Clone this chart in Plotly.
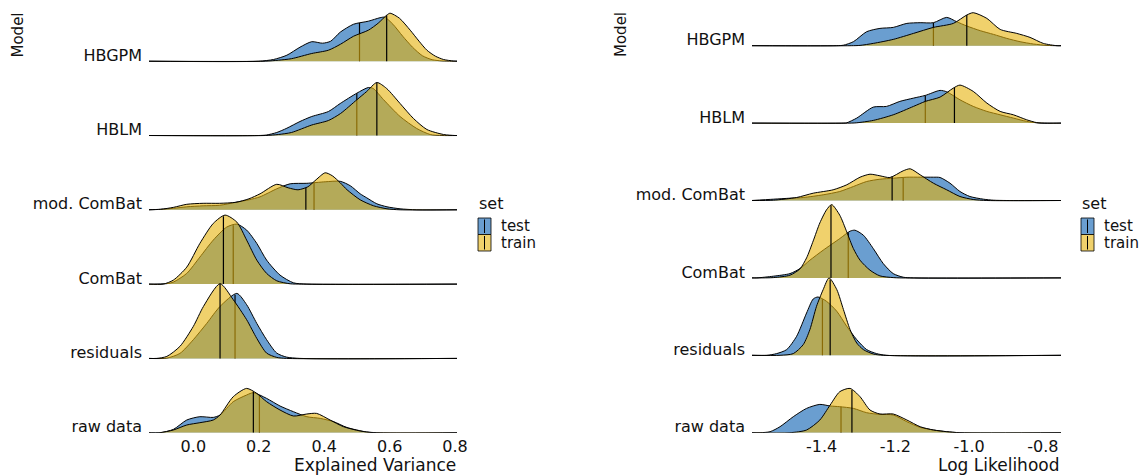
import numpy as np
import plotly.graph_objects as go

# ---------------- data ----------------
models = ["raw data", "residuals", "ComBat", "mod. ComBat", "HBLM", "HBGPM"]
sets = ["test", "train"]

ev_ticks = [0.0, 0.2, 0.4, 0.6, 0.8]
ev_ticktext = ["0.0", "0.2", "0.4", "0.6", "0.8"]
ll_ticks = [-1.4, -1.2, -1.0, -0.8]
ll_ticktext = ["-1.4", "-1.2", "-1.0", "-0.8"]

# medians, ordered like `models`
ev_median_test = [0.202, 0.1275, 0.122, 0.369, 0.4997, 0.508]
ev_median_train = [0.1835, 0.0817, 0.092, 0.344, 0.561, 0.591]
ll_median_test = [-1.3476, -1.398, -1.328, -1.179, -1.119, -1.097]
ll_median_train = [-1.318, -1.377, -1.3748, -1.209, -1.04, -1.0065]

# ridge densities (x, height) -- Explained Variance
ev_hbgpm_test = [(-0.14, 0), (0.20, 0), (0.245, 1.7), (0.286, 6), (0.326, 14), (0.362, 19.5), (0.395, 18),
                 (0.42, 20), (0.449, 29), (0.49, 37), (0.535, 40), (0.571, 43.5), (0.585, 44), (0.61, 37),
                 (0.64, 25), (0.67, 14), (0.70, 5.5), (0.73, 1.5), (0.76, 0.3), (0.79, 0), (0.81, 0)]
ev_hbgpm_train = [(-0.14, 0), (0.22, 0), (0.26, 1), (0.30, 2.5), (0.362, 7.7), (0.413, 11), (0.45, 17),
                  (0.49, 25), (0.535, 31), (0.565, 38), (0.591, 46), (0.6015, 48), (0.63, 43), (0.663, 31),
                  (0.69, 20), (0.714, 11), (0.74, 5), (0.765, 1.7), (0.795, 0.2), (0.81, 0)]
ev_hblm_test = [(-0.14, 0), (0.20, 0), (0.224, 0.5), (0.255, 3), (0.286, 7.3), (0.326, 14), (0.362, 19),
                (0.413, 24), (0.449, 32), (0.4997, 42.3), (0.535, 48), (0.55, 47), (0.581, 36), (0.632, 19),
                (0.683, 7), (0.724, 1), (0.76, 0), (0.81, 0)]
ev_hblm_train = [(-0.14, 0), (0.22, 0), (0.26, 1), (0.30, 3), (0.362, 10.5), (0.413, 15), (0.45, 22),
                 (0.4997, 35.7), (0.530, 44), (0.561, 53), (0.591, 47), (0.632, 32), (0.673, 17), (0.714, 6),
                 (0.765, 1), (0.80, 0), (0.81, 0)]
ev_modcombat_test = [(-0.14, 0), (-0.10, 0.5), (-0.06, 1.5), (-0.02, 3), (0.03, 4), (0.08, 4.5), (0.13, 7.5),
                     (0.17, 10), (0.204, 13), (0.255, 21), (0.296, 26), (0.347, 26.5), (0.403, 28), (0.449, 28.5),
                     (0.48, 24), (0.51, 16), (0.53, 12), (0.561, 6), (0.592, 3), (0.632, 1), (0.683, 0), (0.81, 0)]
ev_modcombat_train = [(-0.14, 0), (-0.10, 0.5), (-0.06, 2.5), (-0.02, 5.5), (0.03, 6.5), (0.08, 6.5), (0.13, 7.5),
                      (0.17, 11), (0.204, 16), (0.255, 25.5), (0.29, 22), (0.32, 20), (0.35, 23), (0.375, 30),
                      (0.403, 37), (0.425, 34), (0.449, 27), (0.47, 20), (0.51, 10), (0.551, 4), (0.592, 1),
                      (0.632, 0), (0.81, 0)]
ev_combat_test = [(-0.14, 0), (-0.08, 0.5), (-0.061, 2), (-0.020, 10.7), (0.020, 27), (0.061, 44), (0.102, 57),
                  (0.133, 60), (0.163, 54), (0.194, 40.7), (0.224, 24), (0.265, 9), (0.306, 1.3), (0.347, 0),
                  (0.81, 0)]
ev_combat_train = [(-0.14, 0), (-0.092, 0), (-0.061, 4), (-0.020, 17), (0.020, 40.7), (0.061, 60.7), (0.097, 69),
                   (0.133, 62), (0.163, 44), (0.194, 24), (0.224, 10.7), (0.255, 3.3), (0.296, 0.3), (0.33, 0),
                   (0.81, 0)]
ev_resid_test = [(-0.14, 0), (-0.081, 0.3), (-0.041, 5), (0.0, 18.7), (0.041, 35), (0.0817, 52), (0.133, 65),
                 (0.163, 53.7), (0.194, 35), (0.224, 18.7), (0.255, 5.3), (0.285, 1.3), (0.326, 0), (0.81, 0)]
ev_resid_train = [(-0.14, 0), (-0.112, 0), (-0.081, 2), (-0.041, 12), (0.0, 32), (0.031, 52), (0.0817, 74.7),
                  (0.122, 58.7), (0.163, 38.7), (0.194, 20), (0.224, 5.3), (0.255, 1), (0.285, 0), (0.81, 0)]
ev_raw_test = [(-0.14, 0), (-0.102, 0), (-0.061, 3.3), (-0.020, 12.7), (0.020, 16), (0.061, 15.3), (0.0817, 17.7),
               (0.122, 31), (0.163, 37.7), (0.1835, 40), (0.224, 34.3), (0.265, 26.7), (0.306, 21), (0.347, 16),
               (0.388, 14.3), (0.429, 11), (0.469, 5.3), (0.530, 0.7), (0.571, 0), (0.81, 0)]
ev_raw_train = [(-0.14, 0), (-0.102, 0), (-0.061, 2.7), (-0.020, 7.7), (0.020, 10), (0.061, 12.7), (0.0817, 17.7),
                (0.122, 36), (0.163, 44.3), (0.194, 39.3), (0.224, 31), (0.265, 22.7), (0.306, 16.7), (0.347, 18.7),
                (0.377, 19.3), (0.418, 12.7), (0.459, 6), (0.510, 1.7), (0.551, 0), (0.81, 0)]

# ridge densities (x, height) -- Log Likelihood
ll_hbgpm_test = [(-1.59, 0), (-1.36, 0), (-1.341, 0.5), (-1.314, 4), (-1.278, 14), (-1.242, 17.3), (-1.206, 18.3),
                 (-1.169, 22.3), (-1.133, 23), (-1.097, 23), (-1.061, 28.3), (-1.034, 24), (-1.0065, 19.7),
                 (-0.970, 15), (-0.934, 11.3), (-0.898, 7.3), (-0.862, 4), (-0.826, 1.7), (-0.789, 0.3),
                 (-0.76, 0), (-0.75, 0)]
ll_hbgpm_train = [(-1.59, 0), (-1.32, 0), (-1.296, 0.3), (-1.260, 2.3), (-1.206, 6.3), (-1.151, 12.3),
                  (-1.097, 18.3), (-1.043, 22.3), (-1.0065, 30.7), (-0.989, 33), (-0.952, 27.3), (-0.916, 16.3),
                  (-0.871, 12.3), (-0.835, 8.3), (-0.799, 2.3), (-0.762, 0), (-0.75, 0)]
ll_hblm_test = [(-1.59, 0), (-1.34, 0), (-1.332, 0.3), (-1.305, 5), (-1.260, 16), (-1.224, 16.7), (-1.188, 21.7),
                (-1.151, 25), (-1.119, 27.7), (-1.079, 32.7), (-1.061, 31.3), (-1.025, 23.3), (-0.989, 16.7),
                (-0.952, 11.7), (-0.916, 8.3), (-0.880, 5), (-0.844, 1.7), (-0.808, 0), (-0.75, 0)]
ll_hblm_train = [(-1.59, 0), (-1.32, 0), (-1.305, 0.3), (-1.260, 2.7), (-1.206, 8.3), (-1.151, 16.7),
                 (-1.119, 21.7), (-1.079, 26), (-1.043, 35), (-1.025, 38), (-0.989, 31.7), (-0.952, 20),
                 (-0.916, 11.7), (-0.880, 8.3), (-0.844, 3.3), (-0.817, 0.5), (-0.789, 0), (-0.75, 0)]
ll_modcombat_test = [(-1.59, 0), (-1.531, 1.3), (-1.486, 2.3), (-1.450, 3), (-1.396, 5.7), (-1.351, 9),
                     (-1.314, 14), (-1.278, 19), (-1.242, 21.3), (-1.206, 22.3), (-1.169, 23.3), (-1.133, 23.3),
                     (-1.097, 23.3), (-1.079, 23), (-1.052, 17.3), (-1.025, 9), (-0.998, 4), (-0.961, 1.3),
                     (-0.934, 0.3), (-0.898, 0), (-0.75, 0)]
ll_modcombat_train = [(-1.59, 0), (-1.531, 0.3), (-1.468, 3), (-1.423, 7.3), (-1.369, 10.7), (-1.332, 15.7),
                      (-1.296, 23.3), (-1.269, 26.3), (-1.242, 24.7), (-1.215, 23), (-1.179, 29.7), (-1.160, 31.7),
                      (-1.133, 25.7), (-1.097, 17.3), (-1.061, 10.7), (-1.025, 4), (-0.989, 1), (-0.952, 0),
                      (-0.75, 0)]
ll_combat_test = [(-1.59, 0), (-1.576, 0), (-1.531, 1.7), (-1.486, 4.3), (-1.459, 9.3), (-1.432, 17.7),
                  (-1.396, 27.7), (-1.351, 39.3), (-1.323, 46.7), (-1.310, 47.7), (-1.287, 42.7), (-1.260, 29.3),
                  (-1.233, 14.3), (-1.206, 4.3), (-1.179, 0.7), (-1.151, 0), (-0.75, 0)]
ll_combat_train = [(-1.59, 0), (-1.531, 0.3), (-1.486, 2.7), (-1.459, 9), (-1.441, 20), (-1.423, 37),
                   (-1.405, 55), (-1.387, 68), (-1.373, 73.3), (-1.351, 62.7), (-1.332, 46), (-1.314, 29.3),
                   (-1.296, 17.7), (-1.269, 7.7), (-1.242, 2), (-1.206, 0.3), (-1.188, 0), (-0.75, 0)]
ll_resid_test = [(-1.59, 0), (-1.549, 0), (-1.522, 1.7), (-1.495, 5.7), (-1.468, 19), (-1.441, 42.3),
                 (-1.423, 56.3), (-1.410, 58.3), (-1.387, 54), (-1.359, 44), (-1.332, 29), (-1.305, 15.7),
                 (-1.278, 5.7), (-1.251, 1.7), (-1.224, 0), (-0.75, 0)]
ll_resid_train = [(-1.59, 0), (-1.513, 0), (-1.477, 1.7), (-1.450, 10.7), (-1.432, 25.7), (-1.414, 49),
                  (-1.396, 65.7), (-1.380, 77.4), (-1.359, 65.7), (-1.341, 45.7), (-1.323, 25.7), (-1.305, 12.3),
                  (-1.287, 5.7), (-1.260, 1.3), (-1.233, 0), (-0.75, 0)]
ll_raw_test = [(-1.59, 0), (-1.567, 0), (-1.540, 1), (-1.513, 6), (-1.477, 16), (-1.441, 24.3), (-1.405, 28.3),
               (-1.377, 26.7), (-1.351, 26), (-1.314, 24.3), (-1.278, 20), (-1.242, 18.3), (-1.206, 17.7),
               (-1.169, 11), (-1.133, 5.3), (-1.097, 2.7), (-1.061, 1), (-1.025, 0), (-0.75, 0)]
ll_raw_train = [(-1.59, 0), (-1.486, 0), (-1.441, 2.7), (-1.405, 12.7), (-1.377, 27.7), (-1.351, 41),
                (-1.323, 44.3), (-1.296, 36), (-1.269, 22.7), (-1.242, 18.7), (-1.206, 18.7), (-1.169, 12.7),
                (-1.133, 6), (-1.097, 2.7), (-1.061, 1), (-1.025, 0), (-0.75, 0)]

ev_curves = {
    "test": [ev_raw_test, ev_resid_test, ev_combat_test, ev_modcombat_test, ev_hblm_test, ev_hbgpm_test],
    "train": [ev_raw_train, ev_resid_train, ev_combat_train, ev_modcombat_train, ev_hblm_train, ev_hbgpm_train],
}
ll_curves = {
    "test": [ll_raw_test, ll_resid_test, ll_combat_test, ll_modcombat_test, ll_hblm_test, ll_hbgpm_test],
    "train": [ll_raw_train, ll_resid_train, ll_combat_train, ll_modcombat_train, ll_hblm_train, ll_hbgpm_train],
}

# ---------------- style ----------------
W, H = 1143, 476
FONT = "DejaVu Sans"
TXT = "#111111"
FILL = {"test": "rgb(106,158,208)", "train": "rgba(230,178,10,0.6)"}
KEYFILL = {"test": "rgb(106,158,208)", "train": "rgb(240,209,108)"}
EV_SCALE = 74.3   # ridge height units per row
LL_SCALE = 77.4

y_bot_px, y_top_px = 432.7, 5.0
ydom = [(H - y_bot_px) / H, (H - y_top_px) / H]

fig = go.Figure()


def add_panel(curves, med_test, med_train, scale, xa, ya):
    meds = {"test": med_test, "train": med_train}
    for row in range(len(models) - 1, -1, -1):
        for s in sets:
            pts = curves[s][row]
            xs = np.array([p[0] for p in pts], dtype=float)
            hs = np.array([p[1] for p in pts], dtype=float) / scale
            fig.add_trace(go.Scatter(
                x=xs, y=row + hs, xaxis=xa, yaxis=ya, mode="lines",
                line=dict(color="black", width=1.0, shape="spline", smoothing=0.7),
                fill="toself", fillcolor=FILL[s], showlegend=False, hoverinfo="skip"))
            m = meds[s][row]
            hm = float(np.interp(m, xs, hs))
            fig.add_trace(go.Scatter(
                x=[m, m], y=[row, row + hm], xaxis=xa, yaxis=ya, mode="lines",
                line=dict(color="black", width=1.2), showlegend=False, hoverinfo="skip"))


add_panel(ev_curves, ev_median_test, ev_median_train, EV_SCALE, "x", "y")
add_panel(ll_curves, ll_median_test, ll_median_train, LL_SCALE, "x2", "y2")

axis_common = dict(showgrid=False, zeroline=False, showline=False, ticks="", automargin=False,
                   tickfont=dict(family=FONT, size=16, color=TXT))

fig.update_layout(
    width=W, height=H,
    margin=dict(l=0, r=0, t=0, b=0, autoexpand=False),
    paper_bgcolor="white", plot_bgcolor="white",
    xaxis=dict(domain=[149 / W, 457 / W], range=[-0.1355, 0.806], tickvals=ev_ticks, ticktext=ev_ticktext,
               anchor="y", ticklabelstandoff=2, **axis_common),
    xaxis2=dict(domain=[752 / W, 1061 / W], range=[-1.589, -0.751], tickvals=ll_ticks, ticktext=ll_ticktext,
                anchor="y2", ticklabelstandoff=2, **axis_common),
    yaxis=dict(domain=ydom, range=[0, (y_bot_px - y_top_px) / EV_SCALE], tickvals=list(range(6)),
               ticktext=models, anchor="x", ticklabelshift=-6, ticklabelstandoff=6, **axis_common),
    yaxis2=dict(domain=ydom, range=[0, (y_bot_px - y_top_px) / LL_SCALE], tickvals=list(range(6)),
                ticktext=models, anchor="x2", ticklabelshift=-6, ticklabelstandoff=6, **axis_common),
)

ann = []
def px_ann(text, x, y, xanchor, yanchor="middle", angle=0, size=16):
    ann.append(dict(text=text, x=x / W, y=1 - y / H, xref="paper", yref="paper", showarrow=False,
                    xanchor=xanchor, yanchor=yanchor, textangle=angle,
                    font=dict(family=FONT, size=size, color=TXT)))

px_ann("Explained Variance", 458, 465, "right", size=17)
px_ann("Log Likelihood", 1061, 465, "right", size=17)
px_ann("Model", 17.5, 35, "center", angle=-90, size=15)
px_ann("Model", 621, 35, "center", angle=-90, size=15)

shapes = []
KEY_H = 16.5
for lx in (478, 1081):
    px_ann("set", lx - 1, 203, "left")
    for i, s in enumerate(sets):
        y0 = 218 + i * KEY_H
        y1 = y0 + KEY_H
        shapes.append(dict(type="rect", xref="paper", yref="paper", x0=lx / W, x1=(lx + 13) / W,
                           y0=1 - y1 / H, y1=1 - y0 / H, fillcolor=KEYFILL[s],
                           line=dict(color="black", width=0.8)))
        shapes.append(dict(type="line", xref="paper", yref="paper", x0=(lx + 6.5) / W, x1=(lx + 6.5) / W,
                           y0=1 - (y1 - 1.5) / H, y1=1 - (y0 + 1.5) / H, line=dict(color="black", width=1)))
        px_ann(s, lx + 21, (y0 + y1) / 2, "left", size=15)

fig.update_layout(annotations=ann, shapes=shapes)
fig.write_html("out.html", config={"displayModeBar": False},
               post_script="document.body.style.margin='0px';")
